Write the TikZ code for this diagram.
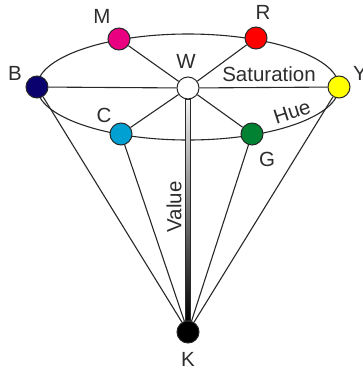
\documentclass[tikz,border=0pt]{standalone}
\usepackage{fontspec}
\setmainfont{Liberation Sans}
\usetikzlibrary{calc}
\definecolor{hsvmagenta}{RGB}{232,0,128}
\definecolor{hsvred}{RGB}{255,0,0}
\definecolor{hsvblue}{RGB}{10,0,110}
\definecolor{hsvyellow}{RGB}{255,255,0}
\definecolor{hsvcyan}{RGB}{0,160,210}
\definecolor{hsvgreen}{RGB}{0,130,50}
\definecolor{hsvline}{RGB}{40,40,40}
\definecolor{hsvtext}{RGB}{45,45,45}

\begin{document}
\begin{tikzpicture}[
  x=1pt,y=-1pt,
  hub/.style={circle,draw=hsvline,line width=1pt,minimum size=22pt,inner sep=0pt},
  edge/.style={hsvline,line width=1.1pt},
  lbl/.style={font=\fontsize{20.5}{20.5}\selectfont,text=hsvtext,inner sep=0pt}
]
  \useasboundingbox (0,0) rectangle (363,378);
  % Hue circle
  \draw[edge] (188,87) ellipse [x radius=151,y radius=53];
  % Colour nodes
  \node[hub,fill=hsvmagenta] (M) at (119,39) {};
  \node[hub,fill=hsvred] (R) at (256,38) {};
  \node[hub,fill=hsvblue] (B) at (37,87) {};
  \node[hub,fill=hsvyellow] (Y) at (339,87) {};
  \node[hub,fill=hsvcyan] (C) at (121,134) {};
  \node[hub,fill=hsvgreen] (G) at (252,134) {};
  \node[hub,fill=white] (W) at (188,88) {};
  \node[hub,fill=black] (K) at (188,332) {};
  % Spokes
  \foreach \n in {M,R,B,Y,C,G}
    \draw[edge] (W) -- (\n);
  % Cone
  \foreach \n in {B,C,G,Y}
    \draw[edge] (K) -- (\n);
  % Value axis
  \shade[top color=gray!10,bottom color=black,draw=hsvline,line width=0.8pt]
    ($(W.south)+(-2.8,0)$) rectangle ($(K.north)+(2.8,0)$);
  % Labels
  \node[lbl] (lM) at (102,16) {M};
  \node[lbl] (lR) at (263,12) {R};
  \node[lbl] (lW) at (186,61) {W};
  \node[lbl] (lB) at (15,73) {B};
  \node[lbl] (lY) at (360,73) {Y};
  \node[lbl] (lC) at (104,115) {C};
  \node[lbl] (lG) at (267,159) {G};
  \node[lbl] (lK) at (188,359) {K};
  \node[lbl] (sat) at (269,74) {Saturation};
  \node[lbl,rotate=18] (hue) at (292,112) {Hue};
  \node[lbl,rotate=90] (val) at (174,207) {Value};
\end{tikzpicture}
\end{document}
